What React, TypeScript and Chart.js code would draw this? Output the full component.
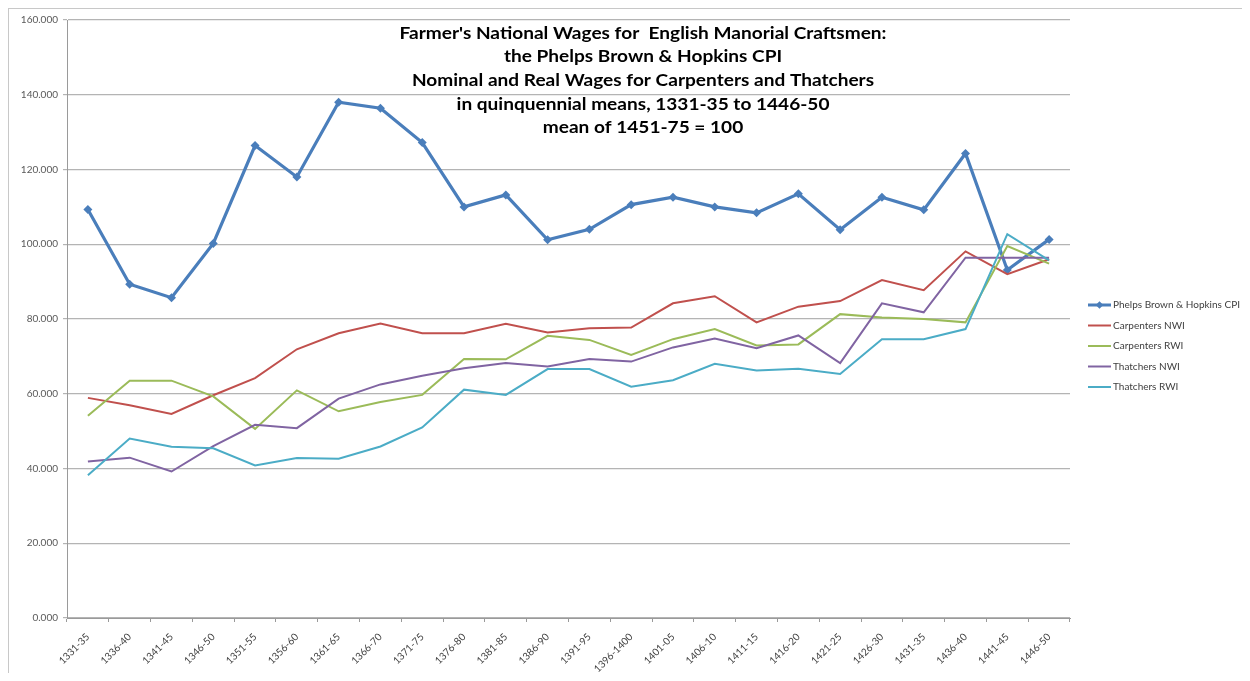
import React, { useEffect, useRef } from "react";
import { Chart, registerables } from "chart.js";

Chart.register(...registerables);

const CATEGORIES = [
  "1331-35", "1336-40", "1341-45", "1346-50", "1351-55", "1356-60", "1361-65", "1366-70",
  "1371-75", "1376-80", "1381-85", "1386-90", "1391-95", "1396-1400", "1401-05", "1406-10",
  "1411-15", "1416-20", "1421-25", "1426-30", "1431-35", "1436-40", "1441-45", "1446-50",
];

const CPI = [109.3, 89.3, 85.7, 100.2, 126.4, 118.0, 138.0, 136.4, 127.2, 110.0, 113.2, 101.2, 104.0, 110.6, 112.6, 110.0, 108.4, 113.5, 103.9, 112.6, 109.2, 124.3, 93.1, 101.3];
const CARPENTERS_NWI = [58.9, 56.9, 54.6, 59.6, 64.2, 71.9, 76.2, 78.8, 76.2, 76.2, 78.7, 76.4, 77.5, 77.7, 84.2, 86.1, 79.1, 83.3, 84.8, 90.4, 87.7, 98.1, 92.0, 96.0];
const CARPENTERS_RWI = [54.1, 63.5, 63.5, 59.3, 50.6, 60.9, 55.3, 57.8, 59.7, 69.3, 69.2, 75.5, 74.4, 70.4, 74.6, 77.3, 72.9, 73.2, 81.3, 80.4, 80.0, 79.1, 99.5, 94.8];
const THATCHERS_NWI = [41.9, 42.9, 39.2, 46.0, 51.7, 50.8, 58.7, 62.5, 64.8, 66.8, 68.2, 67.3, 69.3, 68.6, 72.4, 74.8, 72.2, 75.6, 68.2, 84.2, 81.8, 96.4, 96.4, 96.4];
const THATCHERS_RWI = [38.2, 48.0, 45.8, 45.4, 40.8, 42.8, 42.6, 45.9, 51.0, 61.1, 59.7, 66.6, 66.6, 61.9, 63.6, 68.0, 66.2, 66.7, 65.3, 74.6, 74.6, 77.3, 102.7, 95.7];

const SERIES_NAMES = ["Phelps Brown & Hopkins CPI", "Carpenters NWI", "Carpenters RWI", "Thatchers NWI", "Thatchers RWI"];
const SERIES_COLORS = ["#4A7EBB", "#C0504D", "#9BBB59", "#8064A2", "#4BACC6"];

const TITLE_LINES = [
  "Farmer's National Wages for  English Manorial Craftsmen:",
  "the Phelps Brown & Hopkins CPI",
  "Nominal and Real Wages for Carpenters and Thatchers",
  "in quinquennial means, 1331-35 to 1446-50",
  "mean of 1451-75 = 100",
];

const Y_MIN = 0;
const Y_MAX = 160;
const Y_STEP = 20;

const W = 1233;
const H = 664;

const titlePlugin = {
  id: "overlayTitle",
  afterDraw(chart: any) {
    const ctx = chart.ctx;
    const cx = 634;
    const y0 = 24;
    const lh = 23.7;
    TITLE_LINES.forEach((t, i) => {
      ctx.save();
      ctx.fillStyle = "#000000";
      ctx.font = "bold 17.5px Lato";
      ctx.textAlign = "center";
      ctx.textBaseline = "middle";
      ctx.translate(cx, y0 + i * lh);
      ctx.scale(1.09, 1);
      ctx.fillText(t, 0, 0);
      ctx.restore();
    });
  },
};

const legendPlugin = {
  id: "sideLegend",
  afterDraw(chart: any) {
    const ctx = chart.ctx;
    ctx.save();
    const x0 = 1079;
    const y0 = 296;
    const gap = 20.5;
    chart.data.datasets.forEach((ds: any, i: number) => {
      const y = y0 + i * gap;
      ctx.strokeStyle = ds.borderColor;
      ctx.lineWidth = i === 0 ? 3 : 2;
      ctx.beginPath();
      ctx.moveTo(x0, y);
      ctx.lineTo(x0 + 23, y);
      ctx.stroke();
      if (i === 0) {
        ctx.fillStyle = ds.borderColor;
        const cx = x0 + 11.5;
        const r = 3.8;
        ctx.beginPath();
        ctx.moveTo(cx, y - r);
        ctx.lineTo(cx + r, y);
        ctx.lineTo(cx, y + r);
        ctx.lineTo(cx - r, y);
        ctx.closePath();
        ctx.fill();
      }
      ctx.fillStyle = "#404040";
      ctx.font = "10px Lato";
      ctx.textAlign = "left";
      ctx.textBaseline = "middle";
      ctx.fillText(ds.label, x0 + 25, y);
    });
    ctx.restore();
  },
};

export default function App() {
  const ref = useRef<HTMLCanvasElement | null>(null);

  useEffect(() => {
    if (!ref.current) return;
    const seriesValues = [CPI, CARPENTERS_NWI, CARPENTERS_RWI, THATCHERS_NWI, THATCHERS_RWI];
    const datasets = seriesValues.map((vals, i) => ({
      label: SERIES_NAMES[i],
      data: vals,
      borderColor: SERIES_COLORS[i],
      backgroundColor: SERIES_COLORS[i],
      borderWidth: i === 0 ? 3.2 : 2,
      pointRadius: i === 0 ? 4.5 : 0,
      pointStyle: "rectRot",
      pointBorderWidth: 0,
      tension: 0,
      fill: false,
      order: 5 - i,
    }));

    const chart = new Chart(ref.current, {
      type: "line",
      data: { labels: CATEGORIES, datasets },
      plugins: [titlePlugin, legendPlugin],
      options: {
        responsive: false,
        animation: false,
        layout: { padding: { top: 10, right: 172, left: 0, bottom: 0 } },
        plugins: {
          legend: { display: false },
          title: { display: false },
          tooltip: { enabled: false },
        },
        scales: {
          x: {
            offset: true,
            afterFit(scale: any) {
              scale.height = 55;
            },
            border: { display: true, color: "#9a9a9a", width: 1 },
            grid: {
              offset: true,
              drawOnChartArea: false,
              drawTicks: true,
              tickLength: 4,
              color: "#9a9a9a",
            },
            ticks: {
              autoSkip: false,
              maxRotation: 45,
              minRotation: 45,
              padding: 9,
              color: "#404040",
              font: { family: "Lato", size: 10 },
            },
          },
          y: {
            min: Y_MIN,
            max: Y_MAX,
            afterFit(scale: any) {
              scale.width = 58;
            },
            border: { display: true, color: "#9a9a9a", width: 1 },
            grid: {
              color: "#b4b4b4",
              lineWidth: 1.2,
              tickLength: 4,
              drawTicks: true,
            },
            ticks: {
              stepSize: Y_STEP,
              padding: 5,
              color: "#595959",
              font: { family: "Lato", size: 10 },
              callback: (v: any) => Number(v).toFixed(3),
            },
          },
        },
      },
    });
    return () => chart.destroy();
  }, []);

  return (
    <div
      style={{
        position: "relative",
        width: W,
        height: H,
        borderLeft: "1px solid #c8c8c8",
        borderTop: "1px solid #c8c8c8",
        background: "#ffffff",
      }}
    >
      <canvas ref={ref} width={W} height={H} style={{ display: "block" }} />
    </div>
  );
}
